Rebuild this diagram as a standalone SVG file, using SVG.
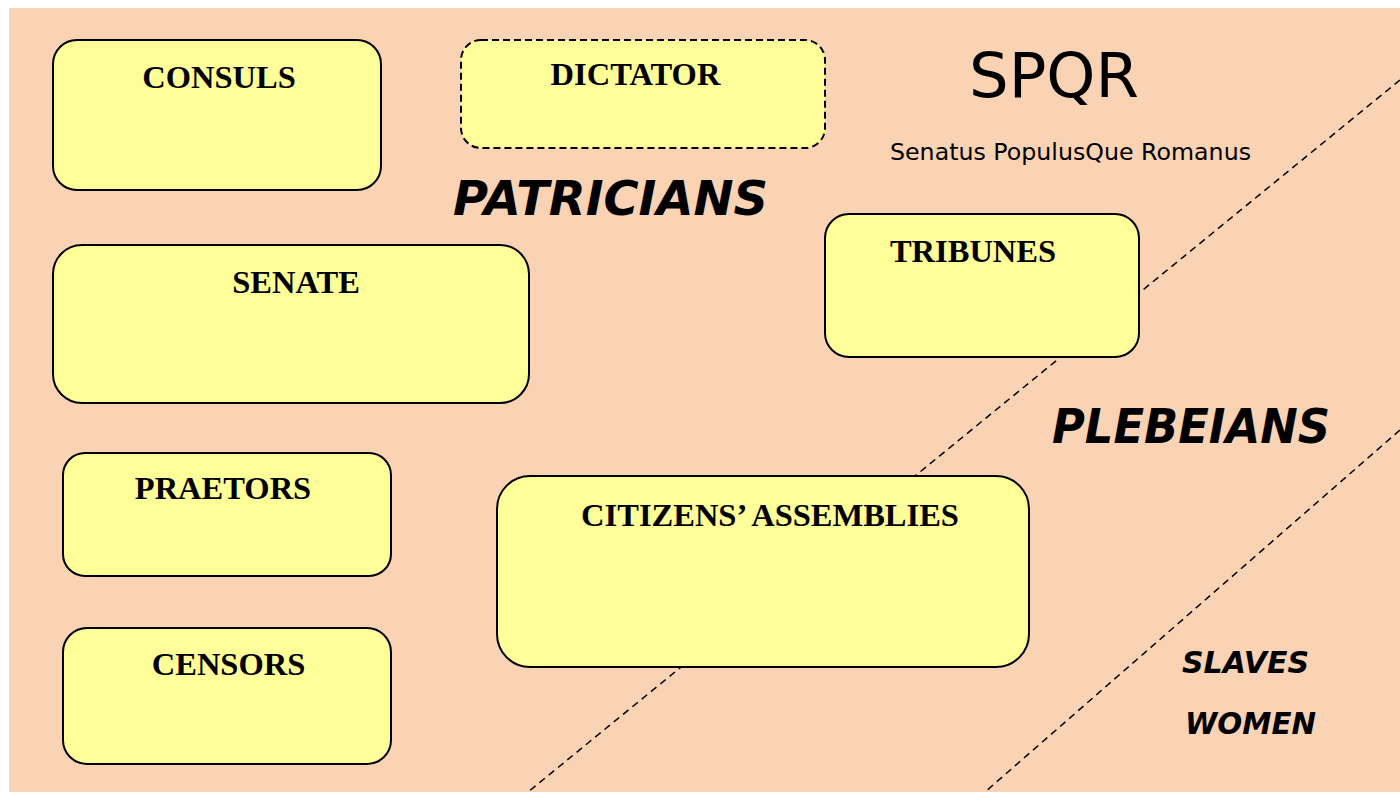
<svg xmlns="http://www.w3.org/2000/svg" width="1400" height="792" viewBox="0 0 1400 792">
<style>
.box{fill:#FFFF99;stroke:#000;stroke-width:2}
.dash{stroke-dasharray:7 4}
.lbl{font-family:"Liberation Serif","Times New Roman",serif;font-weight:bold;font-size:32.5px;fill:#000;text-anchor:middle}
.cls{font-family:"DejaVu Sans","Liberation Sans",sans-serif;font-weight:bold;font-style:italic;fill:#000}
.ttl{font-family:"DejaVu Sans","Liberation Sans",sans-serif;fill:#000}
.div{stroke:#000;stroke-width:1.5;stroke-dasharray:7 5;fill:none}
</style>
<rect x="0" y="0" width="1400" height="792" fill="#FFFFFF"/>
<rect x="9" y="8" width="1391" height="784" fill="#FAD2B4"/>
<g id="connectors">
<line class="div" x1="1400" y1="80" x2="528" y2="792"/>
<line class="div" x1="1400" y1="430" x2="985" y2="792"/>
</g>
<g id="consuls">
<rect class="box" x="53" y="40" width="328" height="150" rx="24"/>
<text class="lbl" x="219" y="88">CONSULS</text>
</g>
<g id="dictator">
<rect class="box dash" x="461" y="40" width="364" height="108" rx="20"/>
<text class="lbl" x="635.5" y="85">DICTATOR</text>
</g>
<g id="senate">
<rect class="box" x="53" y="245" width="476" height="158" rx="29"/>
<text class="lbl" x="296" y="293">SENATE</text>
</g>
<g id="tribunes">
<rect class="box" x="825" y="214" width="314" height="143" rx="24"/>
<text class="lbl" x="973" y="262">TRIBUNES</text>
</g>
<g id="praetors">
<rect class="box" x="63" y="453" width="328" height="123" rx="22"/>
<text class="lbl" x="223" y="499">PRAETORS</text>
</g>
<g id="censors">
<rect class="box" x="63" y="628" width="328" height="136" rx="24"/>
<text class="lbl" x="228.5" y="675">CENSORS</text>
</g>
<g id="citizens-assemblies">
<rect class="box" x="497" y="476" width="532" height="191" rx="33"/>
<text class="lbl" x="770" y="526">CITIZENS’ ASSEMBLIES</text>
</g>
<g id="title">
<text class="ttl" x="969" y="97" font-size="62" textLength="170" lengthAdjust="spacingAndGlyphs">SPQR</text>
<text class="ttl" x="890" y="160" font-size="23" textLength="361" lengthAdjust="spacingAndGlyphs">Senatus PopulusQue Romanus</text>
</g>
<g id="classes">
<text class="cls" x="453" y="215" font-size="48" textLength="315" lengthAdjust="spacingAndGlyphs">PATRICIANS</text>
<text class="cls" x="1052" y="443" font-size="48" textLength="278" lengthAdjust="spacingAndGlyphs">PLEBEIANS</text>
<text class="cls" x="1182" y="673" font-size="31" textLength="127" lengthAdjust="spacingAndGlyphs">SLAVES</text>
<text class="cls" x="1185" y="734" font-size="31" textLength="131" lengthAdjust="spacingAndGlyphs">WOMEN</text>
</g>
</svg>
